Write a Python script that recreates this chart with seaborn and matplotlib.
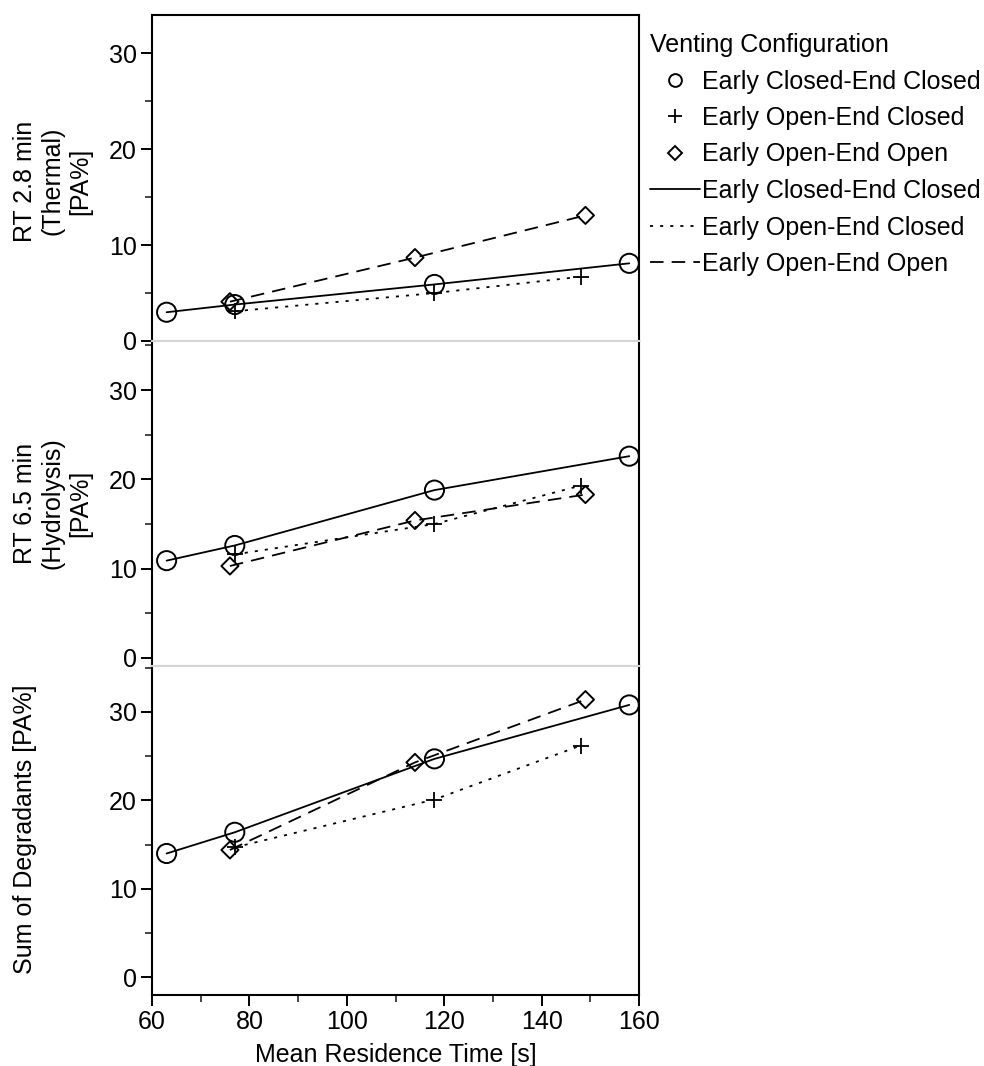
import matplotlib
matplotlib.use("Agg")
import matplotlib.pyplot as plt
from matplotlib.lines import Line2D
from matplotlib.ticker import MultipleLocator
import seaborn as sns
import pandas as pd

# Mean residence time [s] for each venting configuration
x_cc = [63, 77, 118, 158]   # Early Closed-End Closed
x_oc = [77, 118, 148]       # Early Open-End Closed
x_oo = [76, 114, 149]       # Early Open-End Open

# RT 2.8 min (thermal) [PA%]
thermal_cc = [3.0, 3.8, 5.9, 8.1]
thermal_oc = [3.1, 5.0, 6.7]
thermal_oo = [4.1, 8.7, 13.1]

# RT 6.5 min (hydrolysis) [PA%]
hydro_cc = [10.9, 12.6, 18.8, 22.6]
hydro_oc = [11.6, 15.0, 19.3]
hydro_oo = [10.3, 15.4, 18.3]

# Sum of degradants [PA%]
sum_cc = [14.0, 16.4, 24.7, 30.8]
sum_oc = [14.7, 20.1, 26.2]
sum_oo = [14.4, 24.3, 31.4]

configs = ["Early Closed-End Closed", "Early Open-End Closed", "Early Open-End Open"]
panel_labels = ["RT 2.8 min\n(Thermal)\n[PA%]", "RT 6.5 min\n(Hydrolysis)\n[PA%]",
                "Sum of Degradants [PA%]"]
x_ticks = [60, 80, 100, 120, 140, 160]
y_ticks = [0, 10, 20, 30]

panels = [
    (thermal_cc, thermal_oc, thermal_oo),
    (hydro_cc, hydro_oc, hydro_oo),
    (sum_cc, sum_oc, sum_oo),
]

rows = []
for p, (cc, oc, oo) in enumerate(panels):
    for cfg, xs, ys in zip(configs, (x_cc, x_oc, x_oo), (cc, oc, oo)):
        for xv, yv in zip(xs, ys):
            rows.append({"panel": p, "config": cfg, "time": xv, "value": yv})
df = pd.DataFrame(rows)

sns.set_theme(style="white")
plt.rcParams["font.family"] = ["Liberation Sans", "DejaVu Sans"]
plt.rcParams["text.color"] = "black"
plt.rcParams["axes.labelcolor"] = "black"

FS = 18
DOT = (0, (1.7, 3.9))
DASH = (0, (7.5, 4.5))
line_styles = {configs[0]: "-", configs[1]: DOT, configs[2]: DASH}
marker_kw = {
    configs[0]: dict(marker="o", s=190, color="none", edgecolor="black", linewidth=1.4),
    configs[1]: dict(marker="+", s=145, color="black", linewidth=1.3),
    configs[2]: dict(marker="D", s=76, color="none", edgecolor="black", linewidth=1.4),
}

fig = plt.figure(figsize=(9.84, 10.66), dpi=100)
gs = fig.add_gridspec(3, 1, left=152 / 984, right=639 / 984,
                      top=1 - 15 / 1066, bottom=1 - 995 / 1066,
                      hspace=0, height_ratios=[326, 325, 329])
axes = [fig.add_subplot(gs[i]) for i in range(3)]
ylims = [(0, 34), (-0.9, 35.5), (-2.0, 35.2)]
label_y = [181, 503, 829]

for i, ax in enumerate(axes):
    sub = df[df["panel"] == i]
    for cfg in configs:
        d = sub[sub["config"] == cfg]
        sns.lineplot(data=d, x="time", y="value", ax=ax, color="black",
                     linewidth=1.3, linestyle=line_styles[cfg],
                     estimator=None, sort=False, legend=False, zorder=2)
        sns.scatterplot(data=d, x="time", y="value", ax=ax, legend=False,
                        zorder=3, **marker_kw[cfg])
    ax.set_xlim(60, 160)
    ax.set_ylim(*ylims[i])
    ax.set_yticks(y_ticks)
    ax.yaxis.set_minor_locator(MultipleLocator(5))
    ax.set_xlabel("")
    ax.set_ylabel("")
    for s in ax.spines.values():
        s.set_color("black")
        s.set_linewidth(1.5)
    if i > 0:
        ax.spines["top"].set_color("#d4d4d4")
    if i < 2:
        ax.spines["bottom"].set_color("#d4d4d4")
        ax.tick_params(axis="x", which="both", bottom=False, labelbottom=False)
    ax.tick_params(axis="y", which="major", left=True, direction="out",
                   length=8, width=1.4, labelsize=FS, pad=3, colors="black")
    ax.tick_params(axis="y", which="minor", left=True, direction="out",
                   length=5, width=1.2)
    fig.text(13 / 984, 1 - label_y[i] / 1066, panel_labels[i], rotation=90,
             ha="left", va="center", multialignment="center", fontsize=FS,
             linespacing=1.2)

axb = axes[2]
axb.set_xticks(x_ticks)
axb.xaxis.set_minor_locator(MultipleLocator(10))
axb.tick_params(axis="x", which="major", bottom=True, direction="out",
                length=8, width=1.4, labelsize=FS, pad=3, colors="black")
axb.tick_params(axis="x", which="minor", bottom=True, direction="out",
                length=5, width=1.2)
axb.set_xlabel("Mean Residence Time [s]", fontsize=FS, labelpad=6)

handles = [
    Line2D([], [], ls="none", marker="o", ms=9.2, mfc="none", mec="black", mew=1.4),
    Line2D([], [], ls="none", marker="+", ms=10, color="black", mew=1.3),
    Line2D([], [], ls="none", marker="D", ms=7.4, mfc="none", mec="black", mew=1.4),
    Line2D([], [], ls="-", lw=1.3, color="black"),
    Line2D([], [], ls=DOT, lw=1.3, color="black"),
    Line2D([], [], ls=DASH, lw=1.3, color="black"),
]
labels = configs + configs
leg = fig.legend(handles, labels, title="Venting Configuration",
                 loc="upper left", bbox_to_anchor=(650 / 984, 1 - 33 / 1066),
                 frameon=False, fontsize=FS, title_fontsize=FS,
                 handlelength=2.0, handletextpad=0.1, labelspacing=0.5,
                 borderaxespad=0, borderpad=0)
leg._legend_box.align = "left"

fig.savefig("out.png", dpi=100)
